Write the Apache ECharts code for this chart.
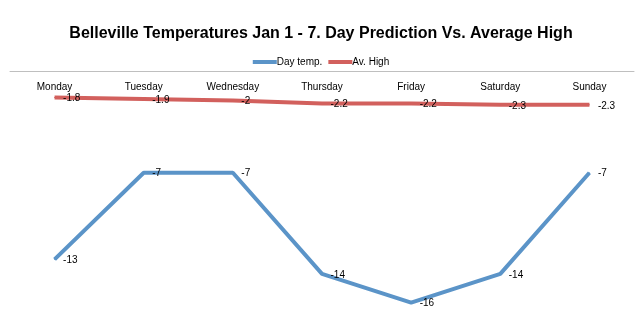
<!DOCTYPE html>
<html><head><meta charset="utf-8">
<script src="https://cdn.jsdelivr.net/npm/echarts@6/dist/echarts.min.js"></script>
<style>html,body{margin:0;padding:0;background:#fff}#c{width:642px;height:336px}</style>
</head><body><div id="c"></div>
<script>
var categories = ['Monday','Tuesday','Wednesday','Thursday','Friday','Saturday','Sunday'];
var dayTemp = [-13,-7,-7,-14,-16,-14,-7];
var avHigh = [-1.8,-1.9,-2,-2.2,-2.2,-2.3,-2.3];
var titleText = 'Belleville Temperatures Jan 1 - 7. Day Prediction Vs. Average High';
var seriesNames = ['Day temp.','Av. High'];

var chart = echarts.init(document.getElementById('c'), null, {renderer:'canvas'});
var lbl = {show:true, position:'right', distance:8, offset:[0,1], fontSize:10, color:'#000', fontFamily:'Liberation Sans'};
chart.setOption({
  animation:false,
  title:{text:titleText, left:'center', top:21,
    textStyle:{fontFamily:'Liberation Sans', fontWeight:'bold', fontSize:16, color:'#000'}},
  legend:{top:52, left:'center', itemWidth:24, itemHeight:4, itemGap:6,
    icon:'rect',
    textStyle:{fontSize:10, color:'#000', fontFamily:'Liberation Sans', padding:[0,0,0,-5]},
    data:seriesNames},
  grid:{left:10, right:8, top:71.6, bottom:4.4},
  xAxis:{type:'category', data:categories, position:'top', boundaryGap:true,
    axisLine:{lineStyle:{color:'#bfbfbf', width:1}},
    axisTick:{show:false},
    axisLabel:{inside:true, margin:11, fontSize:10, color:'#000', fontFamily:'Liberation Sans'}},
  yAxis:{type:'value', min:-18, max:0, show:false, splitLine:{show:false}},
  series:[
    {name:seriesNames[0], type:'line', data:dayTemp, showSymbol:true, symbol:'circle', symbolSize:1,
     lineStyle:{width:4, color:'#5b94c8'}, itemStyle:{color:'#5b94c8'}, label:lbl},
    {name:seriesNames[1], type:'line', data:avHigh, showSymbol:true, symbol:'circle', symbolSize:1,
     lineStyle:{width:4, color:'#d2605d'}, itemStyle:{color:'#d2605d'}, label:lbl}
  ]
});
</script></body></html>
